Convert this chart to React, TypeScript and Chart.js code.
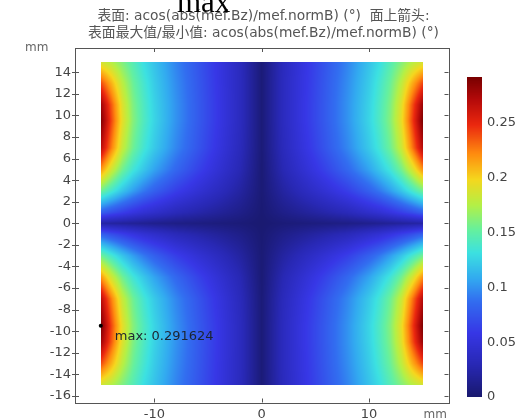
import React, { useEffect, useRef } from "react";
import { Chart, registerables } from "chart.js";

Chart.register(...registerables);

// ---- Data ----
const X_GRID = [-15, -14, -13, -12, -11, -10, -8, -6, -4, -2, 0, 2, 4, 6, 8, 10, 11, 12, 13, 14, 15];
const Y_GRID = [15, 13, 11, 9.5, 7, 5, 3, 1, 0, -1, -3, -5, -7, -9.5, -11, -13, -15];

const ROW_P15 = [0.185, 0.175, 0.16, 0.145, 0.13, 0.118, 0.095, 0.075, 0.055, 0.034, 0.004, 0.034, 0.055, 0.075, 0.095, 0.118, 0.13, 0.145, 0.16, 0.175, 0.185];
const ROW_P13 = [0.24, 0.21, 0.178, 0.154, 0.137, 0.122, 0.098, 0.077, 0.056, 0.035, 0.004, 0.035, 0.056, 0.077, 0.098, 0.122, 0.137, 0.154, 0.178, 0.21, 0.24];
const ROW_P11 = [0.28, 0.235, 0.19, 0.16, 0.141, 0.125, 0.1, 0.078, 0.057, 0.035, 0.004, 0.035, 0.057, 0.078, 0.1, 0.125, 0.141, 0.16, 0.19, 0.235, 0.28];
const ROW_P95 = [0.29, 0.24, 0.193, 0.162, 0.142, 0.126, 0.1, 0.078, 0.057, 0.035, 0.004, 0.035, 0.057, 0.078, 0.1, 0.126, 0.142, 0.162, 0.193, 0.24, 0.29];
const ROW_P7 = [0.27, 0.225, 0.182, 0.155, 0.136, 0.121, 0.096, 0.075, 0.054, 0.033, 0.004, 0.033, 0.054, 0.075, 0.096, 0.121, 0.136, 0.155, 0.182, 0.225, 0.27];
const ROW_P5 = [0.22, 0.185, 0.156, 0.135, 0.12, 0.106, 0.084, 0.065, 0.047, 0.029, 0.003, 0.029, 0.047, 0.065, 0.084, 0.106, 0.12, 0.135, 0.156, 0.185, 0.22];
const ROW_P3 = [0.155, 0.137, 0.119, 0.104, 0.091, 0.08, 0.062, 0.048, 0.035, 0.021, 0.003, 0.021, 0.035, 0.048, 0.062, 0.08, 0.091, 0.104, 0.119, 0.137, 0.155];
const ROW_P1 = [0.08, 0.07, 0.062, 0.054, 0.047, 0.042, 0.032, 0.025, 0.018, 0.011, 0.002, 0.011, 0.018, 0.025, 0.032, 0.042, 0.047, 0.054, 0.062, 0.07, 0.08];
const ROW_0 = [0.023, 0.021, 0.019, 0.017, 0.015, 0.013, 0.01, 0.008, 0.006, 0.004, 0.001, 0.004, 0.006, 0.008, 0.01, 0.013, 0.015, 0.017, 0.019, 0.021, 0.023];
const ROW_N1 = [0.08, 0.07, 0.062, 0.054, 0.047, 0.042, 0.032, 0.025, 0.018, 0.011, 0.002, 0.011, 0.018, 0.025, 0.032, 0.042, 0.047, 0.054, 0.062, 0.07, 0.08];
const ROW_N3 = [0.155, 0.137, 0.119, 0.104, 0.091, 0.08, 0.062, 0.048, 0.035, 0.021, 0.003, 0.021, 0.035, 0.048, 0.062, 0.08, 0.091, 0.104, 0.119, 0.137, 0.155];
const ROW_N5 = [0.22, 0.185, 0.156, 0.135, 0.12, 0.106, 0.084, 0.065, 0.047, 0.029, 0.003, 0.029, 0.047, 0.065, 0.084, 0.106, 0.12, 0.135, 0.156, 0.185, 0.22];
const ROW_N7 = [0.27, 0.225, 0.182, 0.155, 0.136, 0.121, 0.096, 0.075, 0.054, 0.033, 0.004, 0.033, 0.054, 0.075, 0.096, 0.121, 0.136, 0.155, 0.182, 0.225, 0.27];
const ROW_N95 = [0.2916, 0.24, 0.193, 0.162, 0.142, 0.126, 0.1, 0.078, 0.057, 0.035, 0.004, 0.035, 0.057, 0.078, 0.1, 0.126, 0.142, 0.162, 0.193, 0.24, 0.29];
const ROW_N11 = [0.28, 0.235, 0.19, 0.16, 0.141, 0.125, 0.1, 0.078, 0.057, 0.035, 0.004, 0.035, 0.057, 0.078, 0.1, 0.125, 0.141, 0.16, 0.19, 0.235, 0.28];
const ROW_N13 = [0.24, 0.21, 0.178, 0.154, 0.137, 0.122, 0.098, 0.077, 0.056, 0.035, 0.004, 0.035, 0.056, 0.077, 0.098, 0.122, 0.137, 0.154, 0.178, 0.21, 0.24];
const ROW_N15 = [0.185, 0.175, 0.16, 0.145, 0.13, 0.118, 0.095, 0.075, 0.055, 0.034, 0.004, 0.034, 0.055, 0.075, 0.095, 0.118, 0.13, 0.145, 0.16, 0.175, 0.185];

const Z_ROWS = [ROW_P15, ROW_P13, ROW_P11, ROW_P95, ROW_P7, ROW_P5, ROW_P3, ROW_P1, ROW_0, ROW_N1, ROW_N3, ROW_N5, ROW_N7, ROW_N95, ROW_N11, ROW_N13, ROW_N15];

const X_TICKS = [-10, 0, 10];
const Y_TICKS = [14, 12, 10, 8, 6, 4, 2, 0, -2, -4, -6, -8, -10, -12, -14, -16];
const CB_TICKS = [0, 0.05, 0.1, 0.15, 0.2, 0.25];
const CB_MIN = 0;
const CB_MAX = 0.291624;

const MAX_POINT = [{ x: -15, y: -9.5 }];
const MAX_LABEL = "max: 0.291624";
const PAGE_HEADING = "max";
const TITLE_LINES = [
  "表面: acos(abs(mef.Bz)/mef.normB) (°)  面上箭头:",
  "表面最大值/最小值: acos(abs(mef.Bz)/mef.normB) (°)",
];
const UNIT = "mm";

// ---- Colormap (COMSOL-like rainbow) ----
const CMAP_STOPS = [0, 0.1, 0.2, 0.3, 0.37, 0.45, 0.52, 0.6, 0.68, 0.76, 0.85, 0.93, 1];
const CMAP_COLORS = [
  [25, 25, 110], [40, 40, 180], [55, 55, 230], [50, 110, 240], [50, 170, 240],
  [60, 225, 225], [100, 240, 160], [180, 240, 70], [245, 215, 30], [255, 140, 15],
  [235, 40, 15], [180, 10, 10], [120, 0, 0],
];

function cmap(t: number): number[] {
  if (t <= 0) return CMAP_COLORS[0];
  if (t >= 1) return CMAP_COLORS[CMAP_COLORS.length - 1];
  let k = 0;
  while (k < CMAP_STOPS.length - 2 && t > CMAP_STOPS[k + 1]) k++;
  const f = (t - CMAP_STOPS[k]) / (CMAP_STOPS[k + 1] - CMAP_STOPS[k]);
  const a = CMAP_COLORS[k], b = CMAP_COLORS[k + 1];
  return [a[0] + (b[0] - a[0]) * f, a[1] + (b[1] - a[1]) * f, a[2] + (b[2] - a[2]) * f];
}

function fieldAt(xv: number, yv: number): number {
  let i = 0;
  while (i < X_GRID.length - 2 && xv > X_GRID[i + 1]) i++;
  let j = 0;
  while (j < Y_GRID.length - 2 && yv < Y_GRID[j + 1]) j++;
  let fx = (xv - X_GRID[i]) / (X_GRID[i + 1] - X_GRID[i]);
  let fy = (yv - Y_GRID[j]) / (Y_GRID[j + 1] - Y_GRID[j]);
  fx = Math.max(0, Math.min(1, fx));
  fy = Math.max(0, Math.min(1, fy));
  const z00 = Z_ROWS[j][i], z01 = Z_ROWS[j][i + 1];
  const z10 = Z_ROWS[j + 1][i], z11 = Z_ROWS[j + 1][i + 1];
  return (z00 * (1 - fx) + z01 * fx) * (1 - fy) + (z10 * (1 - fx) + z11 * fx) * fy;
}

const FONT = '"DejaVu Sans", "Noto Sans CJK SC", sans-serif';
const FRAME = "#555555";
const TXT = "#444444";

const heatmapPlugin = {
  id: "heatmap",
  beforeDatasetsDraw(chart: any) {
    const ctx = chart.ctx;
    const sx = chart.scales.x, sy = chart.scales.y;
    const px0 = Math.round(sx.getPixelForValue(X_GRID[0]));
    const px1 = Math.round(sx.getPixelForValue(X_GRID[X_GRID.length - 1]));
    const py0 = Math.round(sy.getPixelForValue(Y_GRID[0]));
    const py1 = Math.round(sy.getPixelForValue(Y_GRID[Y_GRID.length - 1]));
    const w = px1 - px0, h = py1 - py0;
    const img = ctx.createImageData(w, h);
    for (let r = 0; r < h; r++) {
      const yv = sy.getValueForPixel(py0 + r + 0.5);
      for (let c = 0; c < w; c++) {
        const xv = sx.getValueForPixel(px0 + c + 0.5);
        const v = fieldAt(xv, yv);
        const col = cmap((v - CB_MIN) / (CB_MAX - CB_MIN));
        const k = (r * w + c) * 4;
        img.data[k] = col[0];
        img.data[k + 1] = col[1];
        img.data[k + 2] = col[2];
        img.data[k + 3] = 255;
      }
    }
    ctx.putImageData(img, px0, py0);
  },
};

const decorPlugin = {
  id: "decor",
  afterDraw(chart: any) {
    const ctx = chart.ctx;
    const sx = chart.scales.x, sy = chart.scales.y;
    const a = chart.chartArea;
    ctx.save();
    // frame
    ctx.strokeStyle = FRAME;
    ctx.lineWidth = 1;
    ctx.strokeRect(Math.round(a.left) + 0.5, Math.round(a.top) + 0.5, Math.round(a.right - a.left), Math.round(a.bottom - a.top));
    // ticks
    ctx.beginPath();
    for (const v of X_TICKS) {
      const p = Math.round(sx.getPixelForValue(v)) + 0.5;
      ctx.moveTo(p, a.top); ctx.lineTo(p, a.top + 4);
      ctx.moveTo(p, a.bottom); ctx.lineTo(p, a.bottom - 4);
    }
    for (const v of Y_TICKS) {
      const p = Math.round(sy.getPixelForValue(v)) + 0.5;
      ctx.moveTo(a.left - 3, p); ctx.lineTo(a.left + 4, p);
      ctx.moveTo(a.right, p); ctx.lineTo(a.right - 4, p);
    }
    ctx.stroke();

    // max label
    const mx = sx.getPixelForValue(MAX_POINT[0].x);
    const my = sy.getPixelForValue(MAX_POINT[0].y);
    ctx.fillStyle = "#1c2430";
    ctx.font = `13px ${FONT}`;
    ctx.textAlign = "left";
    ctx.textBaseline = "middle";
    ctx.fillText(MAX_LABEL, mx + 14, my + 11);

    // colorbar
    const cbL = 467, cbR = 482, cbT = 77, cbB = 397;
    for (let yy = cbT; yy < cbB; yy++) {
      const t = (cbB - (yy + 0.5)) / (cbB - cbT);
      const col = cmap(t);
      ctx.fillStyle = `rgb(${col[0] | 0},${col[1] | 0},${col[2] | 0})`;
      ctx.fillRect(cbL, yy, cbR - cbL, 1);
    }
    ctx.fillStyle = TXT;
    ctx.font = `13px ${FONT}`;
    ctx.textAlign = "left";
    ctx.textBaseline = "middle";
    for (const v of CB_TICKS) {
      const yy = cbB - ((v - CB_MIN) / (CB_MAX - CB_MIN)) * (cbB - cbT);
      ctx.fillText(String(v), 487, yy);
    }

    // units
    ctx.fillStyle = "#666666";
    ctx.font = `12px ${FONT}`;
    ctx.textAlign = "left";
    ctx.fillText(UNIT, 25, 48);
    ctx.textAlign = "right";
    ctx.fillText(UNIT, 447, 415);

    // titles
    ctx.fillStyle = "#555555";
    ctx.font = `13.8px ${FONT}`;
    ctx.textAlign = "center";
    ctx.fillText(TITLE_LINES[0], 263.5, 16);
    ctx.fillText(TITLE_LINES[1], 263.5, 33);

    // page heading
    ctx.fillStyle = "#000000";
    ctx.font = `31px "Liberation Serif", "DejaVu Serif", serif`;
    ctx.textAlign = "left";
    ctx.textBaseline = "alphabetic";
    ctx.fillText(PAGE_HEADING, 177, 12);
    ctx.restore();
  },
};

export default function App() {
  const ref = useRef<HTMLCanvasElement | null>(null);
  useEffect(() => {
    if (!ref.current) return;
    const chart = new Chart(ref.current, {
      type: "scatter",
      data: {
        datasets: [
          {
            data: MAX_POINT,
            pointRadius: 2,
            pointBackgroundColor: "#000000",
            pointBorderWidth: 0,
          },
        ],
      },
      options: {
        animation: false,
        responsive: false,
        maintainAspectRatio: false,
        layout: { padding: { left: 0, right: 74.5, top: 48, bottom: 0 } },
        plugins: {
          legend: { display: false },
          tooltip: { enabled: false },
          title: { display: false },
        },
        scales: {
          x: {
            type: "linear",
            min: -17.4,
            max: 17.4,
            afterBuildTicks: (s: any) => {
              s.ticks = X_TICKS.map((v) => ({ value: v }));
            },
            afterFit: (s: any) => {
              s.height = 16.5;
            },
            grid: { display: false, drawTicks: false },
            border: { display: false },
            ticks: {
              color: TXT,
              font: { family: FONT, size: 13 },
              padding: 4,
              maxRotation: 0,
              autoSkip: false,
            },
          },
          y: {
            type: "linear",
            min: -16.62,
            max: 16.26,
            afterBuildTicks: (s: any) => {
              s.ticks = Y_TICKS.map((v) => ({ value: v }));
            },
            afterFit: (s: any) => {
              s.width = 75;
            },
            grid: { display: false, drawTicks: false },
            border: { display: false },
            ticks: {
              color: TXT,
              font: { family: FONT, size: 13 },
              padding: 4,
              autoSkip: false,
            },
          },
        },
      },
      plugins: [heatmapPlugin, decorPlugin],
    } as any);
    return () => chart.destroy();
  }, []);
  return (
    <div style={{ position: "absolute", left: 0, top: 0, width: 523, height: 419, background: "#ffffff" }}>
      <canvas ref={ref} width={523} height={419} style={{ width: 523, height: 419, display: "block" }} />
    </div>
  );
}
